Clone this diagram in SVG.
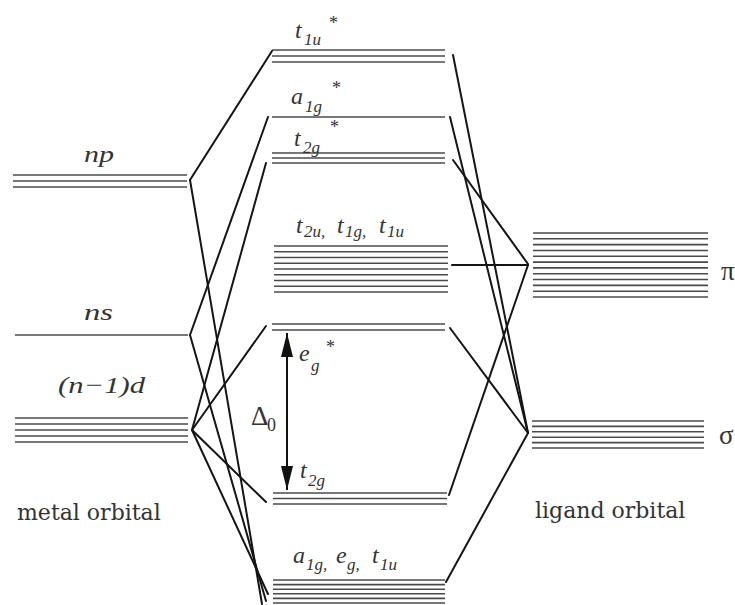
<svg xmlns="http://www.w3.org/2000/svg" width="735" height="605" viewBox="0 0 735 605">
<style>
.lv line{stroke:#4a4a4a;stroke-width:1.6}
.cn line{stroke:#151515;stroke-width:2;stroke-linecap:round}
.it{font-family:"Liberation Serif",serif;font-style:italic;font-size:24px;fill:#333}
.sb{font-family:"Liberation Serif",serif;font-style:italic;font-size:17px;fill:#333}
.st{font-family:"Liberation Serif",serif;font-size:18px;fill:#333}
.up{font-family:"DejaVu Serif",serif;font-size:22px;fill:#333}
.gr{font-family:"Liberation Serif",serif;font-size:27px;fill:#333}
</style>
<defs>
<marker id="ah" viewBox="0 0 24 12" refX="24" refY="6" markerWidth="24" markerHeight="12" markerUnits="userSpaceOnUse" orient="auto-start-reverse">
<path d="M0,0 L24,6 L0,12 Z" fill="#111"/>
</marker>
</defs>
<rect width="735" height="605" fill="#fff"/>

<g id="np" class="lv">
<line x1="13" y1="175" x2="187" y2="175"/><line x1="13" y1="181" x2="187" y2="181"/><line x1="13" y1="187" x2="187" y2="187"/>
<text class="it" x="84" y="162" textLength="30" lengthAdjust="spacingAndGlyphs">np</text>
</g>
<g id="ns" class="lv">
<line x1="15" y1="335" x2="188" y2="335"/>
<text class="it" x="84" y="320" textLength="29" lengthAdjust="spacingAndGlyphs">ns</text>
</g>
<g id="nd" class="lv">
<line x1="15" y1="418" x2="188" y2="418"/><line x1="15" y1="424" x2="188" y2="424"/><line x1="15" y1="430" x2="188" y2="430"/><line x1="15" y1="436" x2="188" y2="436"/><line x1="15" y1="442" x2="188" y2="442"/>
<text class="it" x="58" y="393" textLength="87" lengthAdjust="spacingAndGlyphs">(n−1)d</text>
</g>

<g id="t1u_star" class="lv">
<line x1="272" y1="50" x2="445" y2="50"/><line x1="272" y1="56" x2="445" y2="56"/><line x1="272" y1="62" x2="445" y2="62"/>
<text class="it" x="295" y="38">t</text><text class="sb" x="304" y="45">1u</text><text class="st" x="329" y="29">*</text>
</g>
<g id="a1g_star" class="lv">
<line x1="272" y1="117" x2="445" y2="117"/>
<text class="it" x="291" y="104">a</text><text class="sb" x="305" y="112">1g</text><text class="st" x="332" y="94">*</text>
</g>
<g id="t2g_star" class="lv">
<line x1="272" y1="153" x2="445" y2="153"/><line x1="272" y1="158" x2="445" y2="158"/><line x1="272" y1="163" x2="445" y2="163"/>
<text class="it" x="294" y="146">t</text><text class="sb" x="303" y="153">2g</text><text class="st" x="330" y="133">*</text>
</g>
<g id="t2u_t1g_t1u" class="lv">
<line x1="274" y1="246" x2="448" y2="246"/><line x1="274" y1="251.75" x2="448" y2="251.75"/><line x1="274" y1="257.5" x2="448" y2="257.5"/><line x1="274" y1="263.25" x2="448" y2="263.25"/><line x1="274" y1="269" x2="448" y2="269"/><line x1="274" y1="274.75" x2="448" y2="274.75"/><line x1="274" y1="280.5" x2="448" y2="280.5"/><line x1="274" y1="286.25" x2="448" y2="286.25"/><line x1="274" y1="292" x2="448" y2="292"/>
<text class="it" x="296" y="233">t</text><text class="sb" x="304" y="237">2u,</text>
<text class="it" x="337" y="233">t</text><text class="sb" x="345" y="237">1g,</text>
<text class="it" x="379" y="233">t</text><text class="sb" x="387" y="237">1u</text>
</g>
<g id="eg_star" class="lv">
<line x1="272" y1="324" x2="445" y2="324"/><line x1="272" y1="330" x2="445" y2="330"/>
<text class="it" x="299" y="361">e</text><text class="sb" x="311" y="371">g</text><text class="st" x="326" y="353">*</text>
</g>
<g id="t2g" class="lv">
<line x1="273" y1="493" x2="447" y2="493"/><line x1="273" y1="498.5" x2="447" y2="498.5"/><line x1="273" y1="504" x2="447" y2="504"/>
<text class="it" x="300" y="478">t</text><text class="sb" x="308" y="486">2g</text>
</g>
<g id="a1g_eg_t1u" class="lv">
<line x1="273" y1="580" x2="445" y2="580"/><line x1="273" y1="584.6" x2="445" y2="584.6"/><line x1="273" y1="589.2" x2="445" y2="589.2"/><line x1="273" y1="593.8" x2="445" y2="593.8"/><line x1="273" y1="598.4" x2="445" y2="598.4"/><line x1="273" y1="603" x2="445" y2="603"/>
<text class="it" x="293" y="563">a</text><text class="sb" x="306" y="570">1g,</text>
<text class="it" x="336" y="563">e</text><text class="sb" x="347" y="570">g,</text>
<text class="it" x="372" y="563">t</text><text class="sb" x="380" y="570">1u</text>
</g>

<g id="pi" class="lv">
<line x1="533" y1="233" x2="708" y2="233"/><line x1="533" y1="238.8" x2="708" y2="238.8"/><line x1="533" y1="244.6" x2="708" y2="244.6"/><line x1="533" y1="250.5" x2="708" y2="250.5"/><line x1="533" y1="256.3" x2="708" y2="256.3"/><line x1="533" y1="262.1" x2="708" y2="262.1"/><line x1="533" y1="267.9" x2="708" y2="267.9"/><line x1="533" y1="273.7" x2="708" y2="273.7"/><line x1="533" y1="279.5" x2="708" y2="279.5"/><line x1="533" y1="285.4" x2="708" y2="285.4"/><line x1="533" y1="291.2" x2="708" y2="291.2"/><line x1="533" y1="297" x2="708" y2="297"/>
<text class="gr" x="721" y="280">π</text>
</g>
<g id="sigma" class="lv">
<line x1="532" y1="421" x2="704" y2="421"/><line x1="532" y1="426.4" x2="704" y2="426.4"/><line x1="532" y1="431.8" x2="704" y2="431.8"/><line x1="532" y1="437.2" x2="704" y2="437.2"/><line x1="532" y1="442.6" x2="704" y2="442.6"/><line x1="532" y1="448" x2="704" y2="448"/>
<text class="gr" x="719" y="444">σ</text>
</g>

<g id="connectors" class="cn">
<line x1="190" y1="180" x2="272" y2="51"/>
<line x1="190" y1="180" x2="262" y2="604"/>
<line x1="190" y1="335" x2="268" y2="117"/>
<line x1="190" y1="335" x2="266" y2="601"/>
<line x1="192" y1="430" x2="266" y2="163"/>
<line x1="192" y1="430" x2="266" y2="326"/>
<line x1="192" y1="430" x2="266" y2="502"/>
<line x1="192" y1="430" x2="268" y2="594"/>
<line x1="453" y1="55" x2="528" y2="433"/>
<line x1="450" y1="117" x2="528" y2="433"/>
<line x1="453" y1="160" x2="528" y2="264"/>
<line x1="452" y1="265" x2="528" y2="265"/>
<line x1="450" y1="328" x2="528" y2="433"/>
<line x1="528" y1="265" x2="449" y2="495"/>
<line x1="528" y1="433" x2="446" y2="582"/>
</g>

<g id="delta">
<line x1="287" y1="333" x2="287" y2="490" stroke="#111" stroke-width="2" marker-start="url(#ah)" marker-end="url(#ah)"/>
<text class="gr" x="251" y="425">Δ</text><text class="gr" style="font-size:18px" x="267" y="431">0</text>
</g>

<text class="up" x="17" y="520">metal orbital</text>
<text class="up" x="535" y="518">ligand orbital</text>
</svg>
